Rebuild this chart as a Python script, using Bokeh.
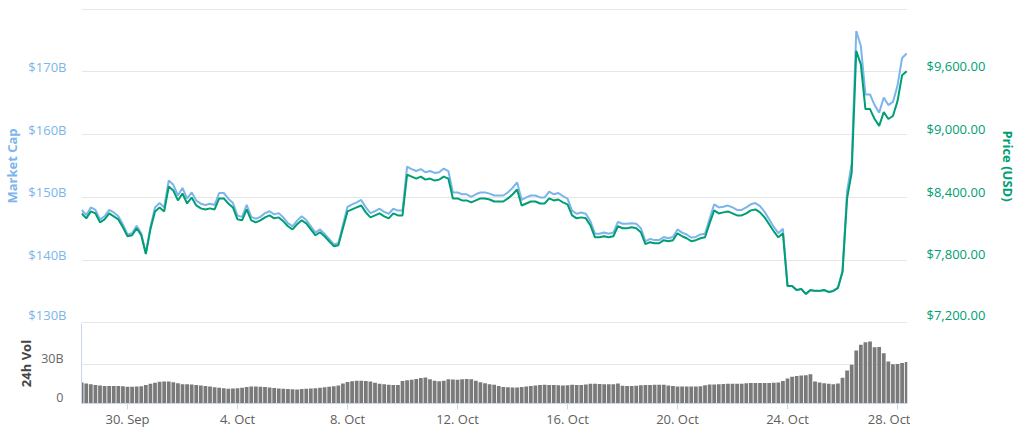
import pandas as pd
from bokeh.plotting import figure
from bokeh.models import Range1d, LinearAxis, FixedTicker, ColumnDataSource
from bokeh.layouts import column
from bokeh.embed import file_html
from bokeh.resources import INLINE

# ---- data (4-hourly samples, 28 Sep 08:00 .. 28 Oct 08:00, 2019) ----
price_usd = [
    8247, 8200, 8266, 8247, 8162, 8190, 8247, 8219, 8190, 8114,
    8029, 8038, 8105, 8038, 7858, 8095, 8266, 8304, 8266, 8504,
    8466, 8371, 8437, 8342, 8399, 8323, 8295, 8285, 8295, 8285,
    8390, 8390, 8342, 8304, 8190, 8181, 8285, 8181, 8162, 8181,
    8209, 8228, 8200, 8209, 8171, 8124, 8095, 8143, 8181, 8152,
    8095, 8038, 8067, 8029, 7981, 7934, 7943, 8105, 8266, 8285,
    8304, 8323, 8257, 8209, 8228, 8247, 8219, 8200, 8247, 8228,
    8228, 8617, 8599, 8580, 8599, 8570, 8580, 8561, 8570, 8599,
    8580, 8390, 8390, 8371, 8371, 8352, 8371, 8390, 8390, 8380,
    8361, 8361, 8361, 8390, 8428, 8475, 8323, 8342, 8361, 8361,
    8342, 8342, 8390, 8371, 8380, 8352, 8333, 8228, 8200, 8209,
    8200, 8133, 8019, 8019, 8029, 8019, 8029, 8124, 8105, 8105,
    8114, 8105, 8067, 7953, 7972, 7962, 7962, 7991, 7981, 7991,
    8057, 8029, 8010, 7981, 7991, 8010, 8019, 8152, 8276, 8247,
    8257, 8266, 8247, 8228, 8228, 8247, 8276, 8285, 8257, 8209,
    8143, 8076, 8019, 8057, 7554, 7554, 7516, 7526, 7478, 7516,
    7507, 7507, 7516, 7497, 7507, 7535, 7687, 8390, 8636, 9800,
    9671, 9244, 9244, 9149, 9083, 9216, 9149, 9178, 9320, 9567,
    9605,
]

market_cap_b = [
    148.0, 147.2, 148.4, 148.0, 146.5, 147.0, 148.0, 147.6, 147.0, 145.7,
    144.1, 144.3, 145.5, 144.3, 141.1, 145.3, 148.4, 149.1, 148.4, 152.7,
    152.0, 150.3, 151.5, 149.8, 150.8, 149.5, 149.0, 148.8, 149.0, 148.8,
    150.7, 150.7, 149.8, 149.1, 147.1, 146.9, 148.8, 146.9, 146.6, 146.9,
    147.5, 147.8, 147.3, 147.5, 146.8, 145.9, 145.4, 146.3, 147.0, 146.4,
    145.4, 144.4, 144.9, 144.2, 143.4, 142.5, 142.7, 145.6, 148.5, 148.9,
    149.2, 149.6, 148.4, 147.5, 147.8, 148.2, 147.7, 147.4, 148.2, 147.9,
    147.9, 154.9, 154.5, 154.2, 154.5, 154.0, 154.2, 153.9, 154.0, 154.6,
    154.2, 150.8, 150.8, 150.5, 150.5, 150.1, 150.5, 150.8, 150.8, 150.6,
    150.3, 150.3, 150.3, 150.8, 151.5, 152.4, 149.6, 150.0, 150.3, 150.3,
    150.0, 150.0, 150.9, 150.5, 150.7, 150.2, 149.8, 147.9, 147.4, 147.6,
    147.4, 146.2, 144.2, 144.2, 144.4, 144.2, 144.4, 146.1, 145.8, 145.8,
    145.9, 145.8, 145.1, 143.0, 143.4, 143.2, 143.2, 143.7, 143.5, 143.7,
    144.9, 144.4, 144.1, 143.6, 143.7, 144.1, 144.2, 146.6, 148.9, 148.4,
    148.5, 148.7, 148.4, 148.0, 148.0, 148.4, 148.9, 149.1, 148.6, 147.7,
    146.5, 145.3, 144.3, 145.0, 135.9, 135.9, 135.2, 135.4, 134.6, 135.2,
    135.1, 135.1, 135.2, 134.9, 135.1, 135.6, 138.3, 151.0, 155.4, 176.5,
    174.1, 166.4, 166.4, 164.7, 163.5, 165.9, 164.7, 165.2, 167.8, 172.2,
    172.9,
]

volume_b = [
    16.3, 15.5, 14.9, 14.4, 14.0, 13.6, 13.5, 13.5, 13.5, 13.3,
    13.0, 12.9, 13.1, 13.4, 14.4, 15.3, 16.1, 16.8, 17.1, 17.1,
    16.4, 15.6, 15.0, 15.0, 14.8, 14.3, 13.9, 13.5, 13.2, 12.6,
    12.2, 11.9, 11.5, 11.6, 11.9, 12.3, 12.8, 13.2, 13.2, 13.0,
    12.8, 12.4, 12.1, 11.7, 11.4, 11.2, 11.0, 10.9, 11.2, 11.5,
    11.6, 11.9, 12.2, 12.5, 12.9, 13.4, 14.0, 15.5, 16.6, 17.3,
    17.6, 17.6, 17.5, 17.0, 16.0, 15.4, 15.0, 14.6, 14.4, 14.3,
    17.4, 18.1, 18.5, 18.9, 19.8, 20.2, 18.8, 17.6, 17.2, 17.6,
    18.7, 18.6, 18.5, 18.8, 18.9, 18.8, 17.7, 16.5, 15.6, 15.0,
    14.6, 13.6, 12.8, 12.5, 12.4, 12.4, 12.7, 13.1, 13.5, 13.9,
    14.3, 14.5, 14.4, 14.3, 14.1, 14.0, 14.2, 14.5, 14.4, 14.3,
    14.8, 15.3, 15.4, 15.1, 15.0, 15.0, 15.0, 15.5, 13.8, 13.6,
    13.5, 13.8, 14.1, 14.3, 14.4, 14.5, 14.6, 14.6, 13.9, 13.5,
    13.2, 13.2, 13.2, 13.2, 13.2, 13.4, 14.2, 14.7, 14.8, 15.0,
    15.2, 15.4, 15.4, 15.3, 15.4, 15.6, 15.8, 15.8, 15.8, 15.8,
    15.8, 16.0, 16.2, 17.5, 19.3, 20.7, 21.4, 21.7, 21.9, 22.6,
    17.0, 16.3, 15.7, 15.3, 15.0, 15.5, 20.0, 25.6, 30.0, 41.0,
    45.5, 47.4, 48.0, 43.6, 43.8, 39.0, 32.5, 30.5, 30.6, 31.4,
    32.2,
]

tick_dates = ["2019-09-30", "2019-10-04", "2019-10-08", "2019-10-12",
              "2019-10-16", "2019-10-20", "2019-10-24", "2019-10-28"]
tick_labels = ["30. Sep", "4. Oct", "8. Oct", "12. Oct",
               "16. Oct", "20. Oct", "24. Oct", "28. Oct"]
mc_ticks = [130, 140, 150, 160, 170]
mc_labels = ["$130B", "$140B", "$150B", "$160B", "$170B"]
mc_grid = [130, 140, 150, 160, 170, 180]
price_ticks = [7200, 7800, 8400, 9000, 9600]
price_labels = ["$7,200.00", "$7,800.00", "$8,400.00", "$9,000.00", "$9,600.00"]
vol_ticks = [0, 30]
vol_labels = ["0", "30B"]

# ---- styling ----
BLUE = "#7cb5ec"
GREEN = "#009e73"
GRID = "#e6e6e6"
AXLINE = "#ccd6eb"
FONT = "Open Sans"
FRAME_W = 826
LEFT = 74
MC_OFF = 0.8      # label sits a few px above its gridline
PRICE_OFF = 55.0
VOL_OFF = 4.6

times = pd.date_range("2019-09-28 08:00", periods=len(price_usd), freq="4h")
src = ColumnDataSource(dict(t=times, price=price_usd, mc=market_cap_b, vol=volume_b))

x_range = Range1d(pd.Timestamp("2019-09-28 07:51"), pd.Timestamp("2019-10-28 08:43"))


def style_axis(a, color, size="13px"):
    a.axis_line_color = None
    a.major_tick_line_color = None
    a.minor_tick_line_color = None
    a.major_tick_out = 0
    a.major_tick_in = 0
    a.minor_tick_out = 0
    a.minor_tick_in = 0
    a.major_label_text_color = color
    a.major_label_text_font = FONT
    a.major_label_text_font_size = size
    a.axis_label_text_font = FONT
    a.axis_label_text_font_style = "bold"
    a.axis_label_text_font_size = "13px"


# ---- main price / market cap panel ----
p = figure(frame_width=FRAME_W, frame_height=315, x_range=x_range,
           y_range=Range1d(129.92, 180.08),
           x_axis_type="datetime", x_axis_location=None,
           output_backend="svg", toolbar_location=None,
           min_border_left=LEFT, min_border_right=10,
           min_border_top=8, min_border_bottom=0)
p.outline_line_color = None
p.xgrid.visible = False
p.ygrid.ticker = FixedTicker(ticks=mc_grid)
p.ygrid.grid_line_color = GRID

lax = p.yaxis[0]
style_axis(lax, BLUE)
lax.ticker = FixedTicker(ticks=[v + MC_OFF for v in mc_ticks])
lax.major_label_overrides = {v + MC_OFF: s for v, s in zip(mc_ticks, mc_labels)}
lax.axis_label = "Market Cap"
lax.axis_label_text_color = BLUE
lax.major_label_standoff = 15
lax.axis_label_standoff = 4

p.extra_y_ranges = {"price": Range1d(7195.2, 10204.8)}
rax = LinearAxis(y_range_name="price")
style_axis(rax, GREEN)
rax.ticker = FixedTicker(ticks=[v + PRICE_OFF for v in price_ticks])
rax.major_label_overrides = {v + PRICE_OFF: s for v, s in zip(price_ticks, price_labels)}
rax.axis_label = "Price (USD)"
rax.axis_label_text_color = GREEN
rax.major_label_standoff = 19
rax.axis_label_standoff = 11
p.add_layout(rax, "right")

p.line("t", "mc", source=src, line_color=BLUE, line_width=2)
p.line("t", "price", source=src, y_range_name="price", line_color=GREEN, line_width=2)

# ---- volume panel ----
v = figure(frame_width=FRAME_W, frame_height=80, x_range=x_range, y_range=Range1d(0, 62),
           x_axis_type="datetime",
           output_backend="svg", toolbar_location=None,
           min_border_left=LEFT, min_border_right=10,
           min_border_top=0, min_border_bottom=26)
v.outline_line_color = None
v.xgrid.visible = False
v.ygrid.ticker = FixedTicker(ticks=[30])
v.ygrid.grid_line_color = GRID

v.vbar(x="t", top="vol", source=src, width=4 * 3600 * 1000 * 0.82,
       fill_color="#7a7a7a", line_color=None)

vax = v.yaxis[0]
style_axis(vax, "#666666", size="12.5px")
vax.axis_line_color = AXLINE
vax.ticker = FixedTicker(ticks=[t + VOL_OFF for t in vol_ticks])
vax.major_label_overrides = {t + VOL_OFF: s for t, s in zip(vol_ticks, vol_labels)}
vax.axis_label = "24h Vol"
vax.axis_label_text_color = "#444444"
vax.major_label_standoff = 18
vax.axis_label_standoff = 3

tick_ms = [int(pd.Timestamp(d).value // 10**6) for d in tick_dates]
xax = v.xaxis[0]
xax.ticker = FixedTicker(ticks=tick_ms)
xax.major_label_overrides = {m: s for m, s in zip(tick_ms, tick_labels)}
xax.axis_line_color = AXLINE
xax.major_tick_line_color = AXLINE
xax.major_tick_out = 6
xax.major_tick_in = 0
xax.minor_tick_line_color = None
xax.major_label_standoff = 0
xax.major_label_text_color = "#606060"
xax.major_label_text_font = FONT
xax.major_label_text_font_size = "13px"

layout = column(p, v)
open("out.html", "w").write(file_html(layout, INLINE))
